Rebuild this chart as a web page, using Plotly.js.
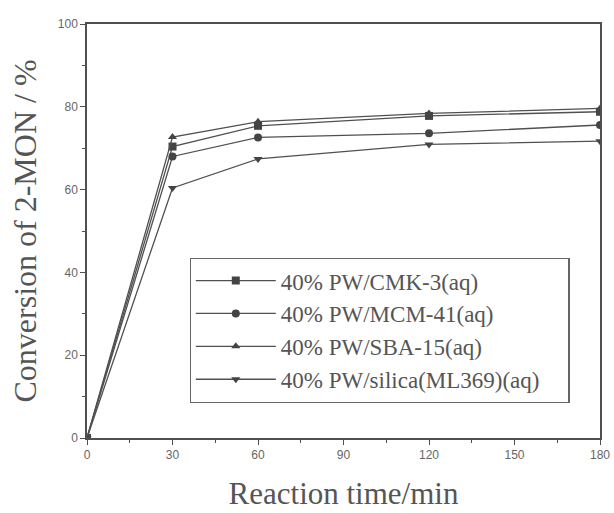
<!DOCTYPE html>
<html><head><meta charset="utf-8">
<script src="https://cdn.plot.ly/plotly-3.0.1.min.js"></script>
<style>body{margin:0;background:#fff}#c{width:614px;height:513px}</style>
</head><body><div id="c"></div>
<script>
const time = [0, 30, 60, 120, 180];
const names = ["40% PW/CMK-3(aq)", "40% PW/MCM-41(aq)", "40% PW/SBA-15(aq)", "40% PW/silica(ML369)(aq)"];
const cmk3 = [0, 70.4, 75.4, 77.8, 78.8];
const mcm41 = [0, 68.0, 72.6, 73.6, 75.6];
const sba15 = [0, 72.7, 76.4, 78.4, 79.6];
const silica = [0, 60.4, 67.4, 70.9, 71.7];
const symbols = ["square", "circle", "triangle-up", "triangle-down"];
const series = [cmk3, mcm41, sba15, silica];
const col = "#505050";
const pad = "\u00a0\u00a0\u00a0\u00a0";
const traces = series.map((s, i) => ({
  x: time, y: s, name: names[i] + pad, type: "scatter", mode: "lines+markers",
  line: {color: col, width: 1.3},
  marker: {symbol: symbols[i], size: 8, color: "#444"}
}));
const layout = {
  width: 614, height: 513,
  margin: {l: 87, r: 14, t: 24, b: 75},
  paper_bgcolor: "#fff", plot_bgcolor: "#fff",
  showlegend: true,
  legend: {x: 0.2, y: 0.435, xanchor: "left", yanchor: "top",
    bordercolor: "#666", borderwidth: 1.2, bgcolor: "rgba(255,255,255,0)",
    font: {family: "Liberation Serif, Times New Roman, serif", size: 23, color: "#555"},
    tracegroupgap: 0, itemwidth: 80},
  xaxis: {range: [0, 180], tickvals: [0, 30, 60, 90, 120, 150, 180],
    showline: true, linecolor: col, linewidth: 1.5, mirror: true,
    ticks: "outside", ticklen: 5, tickcolor: col, showgrid: false, zeroline: false,
    minor: {dtick: 15, ticks: "outside", ticklen: 3, tickcolor: col, showgrid: false},
    tickfont: {family: "Liberation Sans, Arial, sans-serif", size: 12, color: "#666"},
    title: {text: "Reaction time/min", standoff: 21,
      font: {family: "Liberation Serif, Times New Roman, serif", size: 31, color: "#555"}}},
  yaxis: {range: [0, 100], tickvals: [0, 20, 40, 60, 80, 100],
    showline: true, linecolor: col, linewidth: 1.5, mirror: true,
    ticks: "outside", ticklen: 5, tickcolor: col, showgrid: false, zeroline: false,
    minor: {dtick: 10, ticks: "outside", ticklen: 3, tickcolor: col, showgrid: false},
    tickfont: {family: "Liberation Sans, Arial, sans-serif", size: 12, color: "#666"},
    title: {text: "Conversion of 2-MON / %", standoff: 12,
      font: {family: "Liberation Serif, Times New Roman, serif", size: 32, color: "#555"}}}
};
Plotly.newPlot("c", traces, layout, {displayModeBar: false});
</script></body></html>
